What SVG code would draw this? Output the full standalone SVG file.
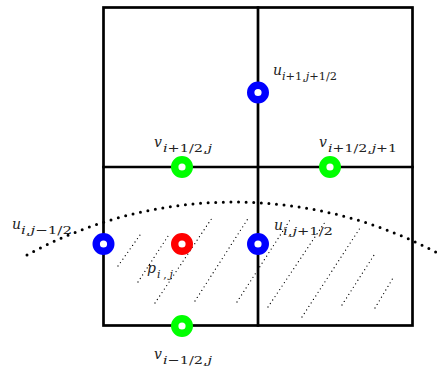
<svg xmlns="http://www.w3.org/2000/svg" width="443" height="367" viewBox="0 0 443 367">
<style>
.grid{fill:none;stroke:#000;stroke-width:2.7;stroke-linecap:square}
.arc{fill:none;stroke:#000;stroke-width:3;stroke-linecap:round;stroke-dasharray:0 7.6}
.hatch{fill:none;stroke:#000;stroke-width:1.3;stroke-linecap:round;stroke-dasharray:0 4.2}
.pt{fill:#fff;stroke-width:7.4}
.m{font-family:"DejaVu Serif","Liberation Serif",serif;font-style:italic;font-size:14px;fill:#222}
.s{font-family:"DejaVu Serif","Liberation Serif",serif;font-style:italic;font-size:11px;fill:#222}
.n{font-style:normal}
</style>
<rect width="443" height="367" fill="#fff"/>
<g id="grid" class="grid">
<rect x="103.5" y="7.5" width="309" height="318"/>
<line x1="258" y1="7.5" x2="258" y2="325.5"/>
<line x1="103.5" y1="167" x2="412.5" y2="167"/>
</g>
<g id="interface">
<path class="arc" d="M27,255 A431,431 0 0 1 441,255"/>
</g>
<g id="hatching" class="hatch">
<line x1="118" y1="266" x2="140" y2="235"/>
<line x1="138" y1="282" x2="170" y2="233"/>
<line x1="155" y1="303" x2="212" y2="218"/>
<line x1="195" y1="301" x2="249" y2="217"/>
<line x1="237" y1="302" x2="290" y2="220"/>
<line x1="268" y1="307" x2="325" y2="222"/>
<line x1="302" y1="317" x2="360" y2="228"/>
<line x1="342" y1="305" x2="376" y2="252"/>
<line x1="375" y1="308" x2="393" y2="278"/>
</g>
<g id="u_top"><circle class="pt" cx="258" cy="92.5" r="7.3" stroke="#0000ff"/></g>
<g id="v_mid_left"><circle class="pt" cx="182" cy="167" r="7.3" stroke="#00ff00"/></g>
<g id="v_mid_right"><circle class="pt" cx="330" cy="167" r="7.3" stroke="#00ff00"/></g>
<g id="u_left"><circle class="pt" cx="103.5" cy="244" r="7.3" stroke="#0000ff"/></g>
<g id="p_center"><circle class="pt" cx="182" cy="244" r="7.3" stroke="#ff0000"/></g>
<g id="u_right"><circle class="pt" cx="258" cy="244" r="7.3" stroke="#0000ff"/></g>
<g id="v_bottom"><circle class="pt" cx="182" cy="326" r="7.3" stroke="#00ff00"/></g>
<g id="labels">
<g><text class="m" x="273" y="75">u</text><text class="s" x="282" y="80" textLength="55" lengthAdjust="spacingAndGlyphs">i<tspan class="n">+1,</tspan>j<tspan class="n">+1/2</tspan></text></g>
<g><text class="m" x="154" y="147">v</text><text class="s" x="163" y="152" textLength="49" lengthAdjust="spacingAndGlyphs">i<tspan class="n">+1/2,</tspan>j</text></g>
<g><text class="m" x="319" y="147">v</text><text class="s" x="328" y="152" textLength="69" lengthAdjust="spacingAndGlyphs">i<tspan class="n">+1/2,</tspan>j<tspan class="n">+1</tspan></text></g>
<g><text class="m" x="12" y="229">u</text><text class="s" x="21" y="234" textLength="51" lengthAdjust="spacingAndGlyphs">i<tspan class="n">,</tspan>j<tspan class="n">−1/2</tspan></text></g>
<g><text class="m" x="274" y="230">u</text><text class="s" x="283" y="235" textLength="50" lengthAdjust="spacingAndGlyphs">i<tspan class="n">,</tspan>j<tspan class="n">+1/2</tspan></text></g>
<g><text class="m" x="147" y="273">p</text><text class="s" x="157" y="278" textLength="16" lengthAdjust="spacing">i<tspan class="n">,</tspan>j</text></g>
<g><text class="m" x="154" y="359">v</text><text class="s" x="163" y="364" textLength="49" lengthAdjust="spacingAndGlyphs">i<tspan class="n">−1/2,</tspan>j</text></g>
</g>
</svg>
